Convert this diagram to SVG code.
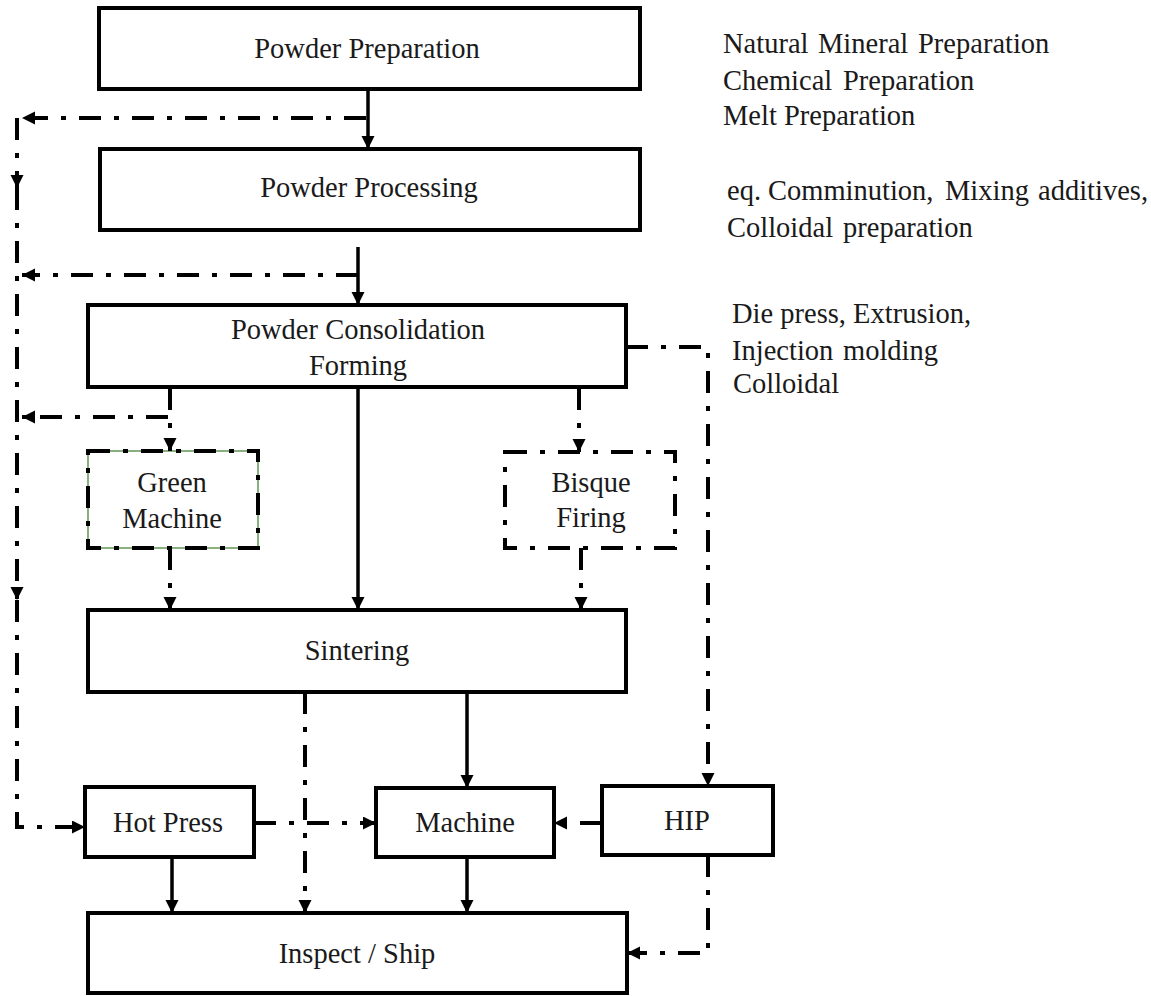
<svg xmlns="http://www.w3.org/2000/svg" width="1151" height="996" viewBox="0 0 1151 996">
<style>
.box{fill:#fff;stroke:#000;stroke-width:4}
.dbox{fill:none;stroke:#000;stroke-width:4;stroke-dasharray:22 13 5 13}
text{font-family:'Liberation Serif','Times New Roman',serif;font-size:28.5px;fill:#1a1a1a}
.t{text-anchor:middle}
.s{fill:none;stroke:#000;stroke-width:3.5}
.d{fill:none;stroke:#000;stroke-width:4;stroke-dasharray:22 13 5 13}
</style>
<defs>
<marker id="ah" markerUnits="userSpaceOnUse" markerWidth="14" markerHeight="14" refX="13" refY="6.5" orient="auto">
<path d="M0,0 L13,6.5 L0,13 z" fill="#000"/>
</marker>
</defs>
<rect width="1151" height="996" fill="#fff"/>

<g id="powder-preparation"><rect class="box" x="99" y="8" width="541" height="81"/><text class="t" x="367" y="58">Powder Preparation</text></g>
<g id="powder-processing"><rect class="box" x="100" y="149" width="540" height="81"/><text class="t" x="369" y="197">Powder Processing</text></g>
<g id="powder-consolidation"><rect class="box" x="88" y="305" width="538" height="82"/><text class="t" x="358" y="339">Powder Consolidation</text><text class="t" x="358" y="375">Forming</text></g>
<g id="green-machine"><rect x="88" y="451" width="170" height="97" fill="#fff" stroke="#3a7d2a" stroke-width="1.2"/><rect class="dbox" x="88" y="451" width="170" height="97"/><text class="t" x="172" y="492">Green</text><text class="t" x="172" y="528">Machine</text></g>
<g id="bisque-firing"><rect class="dbox" x="505" y="452" width="170" height="96"/><text class="t" x="591" y="492">Bisque</text><text class="t" x="591" y="527">Firing</text></g>
<g id="sintering"><rect class="box" x="88" y="610" width="538" height="82"/><text class="t" x="357" y="660">Sintering</text></g>
<g id="hot-press"><rect class="box" x="85" y="787" width="169" height="70"/><text class="t" x="168" y="832">Hot Press</text></g>
<g id="machine"><rect class="box" x="376" y="788" width="178" height="69"/><text class="t" x="465" y="832">Machine</text></g>
<g id="hip"><rect class="box" x="602" y="786" width="171" height="69"/><text class="t" x="687" y="830">HIP</text></g>
<g id="inspect-ship"><rect class="box" x="88" y="913" width="539" height="80"/><text class="t" x="357" y="963">Inspect / Ship</text></g>

<g id="notes">
<text y="53"><tspan x="723">Natural</tspan><tspan x="818">Mineral</tspan><tspan x="918">Preparation</tspan></text>
<text y="90"><tspan x="723">Chemical</tspan><tspan x="843">Preparation</tspan></text>
<text y="125"><tspan x="723">Melt Preparation</tspan></text>
<text y="200"><tspan x="727">eq.</tspan><tspan x="768">Comminution,</tspan><tspan x="945">Mixing</tspan><tspan x="1038">additives,</tspan></text>
<text y="237"><tspan x="727">Colloidal</tspan><tspan x="843">preparation</tspan></text>
<text y="323"><tspan x="732">Die press, Extrusion,</tspan></text>
<text y="360"><tspan x="732">Injection</tspan><tspan x="843">molding</tspan></text>
<text y="393"><tspan x="733">Colloidal</tspan></text>
</g>

<g id="connectors">
<path class="s" d="M368,89 V149" marker-end="url(#ah)"/>
<path class="d" d="M366,118 H22" marker-end="url(#ah)"/>
<path class="d" d="M17,118 V188" marker-end="url(#ah)"/>
<path class="d" d="M17,188 V600" marker-end="url(#ah)"/>
<path class="d" d="M17,600 V827 H85" marker-end="url(#ah)"/>
<path class="s" d="M358,247 V305" marker-end="url(#ah)"/>
<path class="d" d="M358,275 H22" marker-end="url(#ah)"/>
<path class="d" d="M170,388 V451" marker-end="url(#ah)"/>
<path class="d" d="M168,417 H22" marker-end="url(#ah)"/>
<path class="s" d="M358,388 V610" marker-end="url(#ah)"/>
<path class="d" d="M579,388 V452" marker-end="url(#ah)"/>
<path class="d" d="M626,347 H708 V786" marker-end="url(#ah)"/>
<path class="d" d="M170,548 V610" marker-end="url(#ah)"/>
<path class="d" d="M581,548 V610" marker-end="url(#ah)"/>
<path class="d" d="M305,692 V913" marker-end="url(#ah)"/>
<path class="s" d="M467,692 V788" marker-end="url(#ah)"/>
<path class="s" d="M172,857 V913" marker-end="url(#ah)"/>
<path class="s" d="M467,857 V913" marker-end="url(#ah)"/>
<path class="d" d="M254,823 H376" marker-end="url(#ah)"/>
<path class="d" d="M602,823 H554" marker-end="url(#ah)"/>
<path class="d" d="M708,855 V953 H627" marker-end="url(#ah)"/>
</g>
</svg>
